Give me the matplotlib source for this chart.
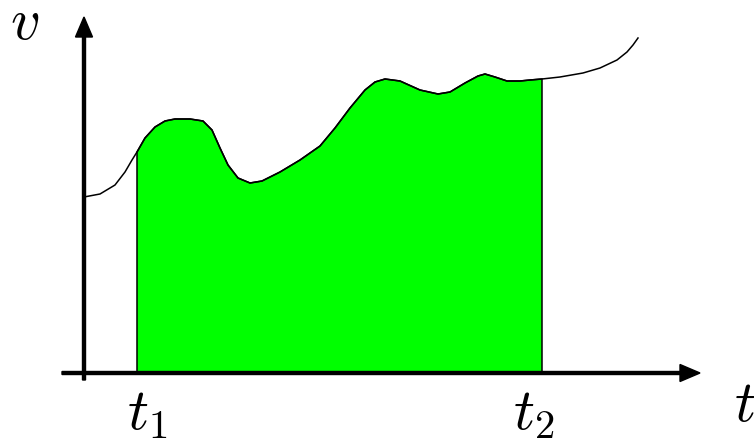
import matplotlib.pyplot as plt
import numpy as np

plt.rcParams['mathtext.fontset'] = 'cm'

# curva v(t) (unidades ~ pixels a partir da origem)
t = np.array([0, 16, 31, 41, 48, 53, 61, 71, 81, 91, 106, 119, 128, 136, 144, 154,
              166, 178, 196, 216, 236, 251, 266, 281, 291, 301, 316, 336, 354, 366,
              381, 394, 401, 411, 423, 436, 446, 458, 476, 499, 516, 533, 543, 549, 554])
v = np.array([176, 179, 188, 201, 213, 221, 235, 246, 252, 254, 254, 252, 243, 225, 208, 195,
              190, 192, 201, 213, 227, 245, 265, 283, 291, 294, 292, 283, 279, 281,
              290, 297, 299, 296, 292, 292, 293, 294, 296, 300, 305, 313, 321, 328, 335])
t1, t2 = 53, 458

fig = plt.figure(figsize=(7.54, 4.38), dpi=100)
ax = fig.add_axes([0, 0, 1, 1])
ax.set_xlim(-84, 670)
ax.set_ylim(-65, 373)
ax.axis('off')

# area sombreada entre t1 e t2
m = (t >= t1) & (t <= t2)
tt = np.concatenate([[t1], t[m], [t2]])
vv = np.concatenate([[0], v[m], [0]])
ax.fill(tt, vv, facecolor='#00ff00', edgecolor='k', lw=1.1, zorder=2)

# curva completa
ax.plot(t, v, color='k', lw=1.1, zorder=3)

# eixos com setas
ax.arrow(-22, 0, 638, 0, width=3, head_width=17, head_length=20,
         length_includes_head=True, color='k', zorder=4)
ax.arrow(0, -7, 0, 363, width=3, head_width=17, head_length=20,
         length_includes_head=True, color='k', zorder=4)

ax.text(-59, 351, '$v$', fontsize=42, ha='center', va='center')
ax.text(661, -32, '$t$', fontsize=42, ha='center', va='center')
ax.text(t1 + 10, -40, '$t_1$', fontsize=42, ha='center', va='center')
ax.text(t2 - 8, -40, '$t_2$', fontsize=42, ha='center', va='center')

fig.savefig('out.png', dpi=100)
